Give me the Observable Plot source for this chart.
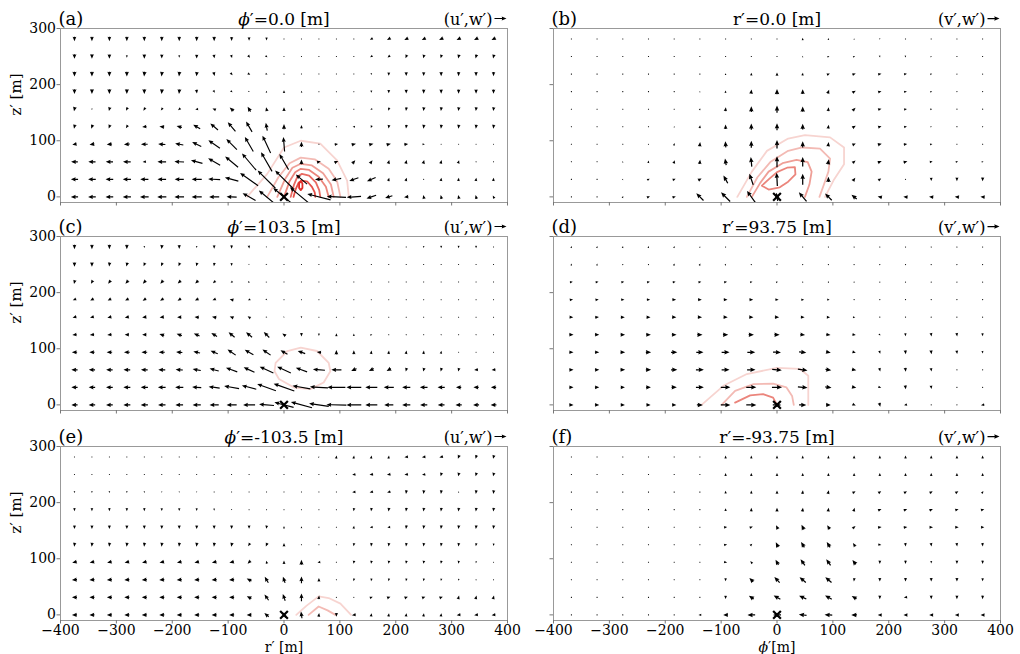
<!DOCTYPE html>
<html>
<head>
<meta charset="utf-8">
<script src="https://cdn.jsdelivr.net/npm/d3@7"></script>
<script src="https://cdn.jsdelivr.net/npm/@observablehq/plot@0.6"></script>
<style>
  body { margin: 0; background: #fff; }
  #fig { position: relative; width: 1020px; height: 654px; background: #fff; overflow: hidden; }
  #fig svg { position: absolute; overflow: visible; }
</style>
</head>
<body>
<div id="fig"></div>
<script>
// ---- grids (m) ----
const rGrid = [-375,-343.75,-312.5,-281.25,-250,-218.75,-187.5,-156.25,-125,-93.75,-62.5,-31.25,0,31.25,62.5,93.75,125,156.25,187.5,218.75,250,281.25,312.5,343.75,375];
const phiGrid = [-368,-322,-276,-230,-184,-138,-92,-46,0,46,92,138,184,230,276,322,368];
const zLevels = [281.25,250,218.75,187.5,156.25,125,93.75,62.5,31.25,0]; // rows, top to bottom
const xTicks = [-400,-300,-200,-100,0,100,200,300,400];
const zTicks = [0,100,200,300];
const origin = [[0, 0]];
const keyValue = 50; // cm/s, reference arrow

// ---- (a) phi'=0 : u', w' (cm/s) ----
const aU = [
  [0,0,0,0,0,0,0,0,0,0,0,0,0,0,0,0,-2,-12,-15,-16,-16,-17,-17,-17,-17],
  [0,0,0,0,0,0,0,0,2,4,8,8,2,0,0,0,0,-10,-10,-6,-4,-4,-4,-4,-4],
  [0,0,0,0,-2,-2,-2,-2,4,8,10,8,2,0,0,0,0,0,0,0,0,0,0,0,0],
  [0,0,0,0,0,-2,-2,2,6,8,6,2,0,-2,0,0,0,0,0,0,0,0,0,0,0],
  [-4,-2,-4,-6,-8,-8,-10,-12,-14,-16,-12,-4,0,0,0,0,-4,-8,-4,-2,-2,-2,-2,-2,-2],
  [-4,-6,-6,-8,-18,-20,-22,-29,-32,-32,-25,-6,0,0,0,0,-10,-4,-2,-2,-2,-2,-2,-2,-2],
  [-18,-20,-22,-24,-28,-30,-34,-38,-48,-44,-35,-34,-5,0,2,14,18,18,18,16,10,3,2,2,2],
  [-28,-30,-30,-32,-14,-36,-40,-48,-50,-54,-59,-46,-38,0,16,16,12,10,4,4,4,4,4,2,2],
  [-30,-32,-32,-34,-34,-36,-38,-42,-50,-56,-75,-74,-74,-47,-33,-40,-38,-36,4,4,1,2,2,2,2],
  [-30,-32,-32,-34,-36,-38,-40,-42,-42,-42,-54,-64,-90,-96,-97,-80,-60,-40,-30,-18,-4,-4,-4,-4,-6]
];
const aW = [
  [-18,-18,-18,-18,-18,-18,-18,-18,-18,-16,-14,-12,-4,-2,-2,-2,-2,-6,-8,-8,-8,-8,-8,-9,-9],
  [-19,-19,-18,-10,-18,-17,-10,-16,-15,-13,-10,-6,-2,-1,-1,-1,-2,-6,-8,-14,-15,-15,-16,-16,-16],
  [-20,-20,-20,-20,-20,-19,-19,-18,-16,-10,-6,-4,-2,-1,-1,-1,-1,-8,-14,-16,-16,-17,-17,-17,-17],
  [-20,-20,-20,-20,-20,-20,-19,-16,-10,-6,-2,8,12,8,2,1,1,-10,-14,-16,-17,-17,-17,-17,-17],
  [-18,-6,-16,-14,-12,-10,-8,-2,6,14,20,16,16,12,2,1,-2,-4,-12,-15,-16,-16,-16,-16,-16],
  [-17,-16,-15,-12,-2,2,6,17,27,38,43,33,22,14,1,1,0,-10,-14,-15,-16,-16,-16,-16,-16],
  [-4,-3,-2,-2,0,2,6,18,33,44,61,72,60,22,2,2,4,4,4,2,0,0,0,0,0],
  [0,0,0,0,-2,0,2,13,29,45,70,80,65,20,4,6,14,14,16,16,16,15,14,4,4],
  [0,0,0,0,0,0,0,0,2,15,53,74,74,40,-2,-8,-14,-16,14,14,2,14,14,14,14],
  [0,0,0,0,0,0,0,0,0,2,31,53,75,80,25,4,-4,-14,-10,-2,16,16,16,16,12]
];

// ---- (b) r'=0 : v', w' (cm/s) ----
const bV = [
  [0,0,0,0,0,0,0,0,0,0,0,0,0,0,0,0,0],
  [0,0,0,0,0,0,0,0,0,0,8,8,2,2,6,0,0],
  [0,0,0,0,0,0,0,0,0,2,12,14,14,12,8,2,2],
  [0,0,0,0,0,0,2,2,0,0,6,14,14,12,8,2,2],
  [0,0,0,0,0,2,2,0,0,0,2,12,14,12,8,2,2],
  [0,0,0,0,0,2,0,0,0,0,2,14,14,12,6,2,0],
  [0,0,0,0,2,2,-2,0,0,0,2,14,16,14,10,4,2],
  [0,0,0,2,4,2,-5,-4,0,0,4,12,16,16,12,10,8],
  [0,0,2,10,12,14,-18,-16,-3,0,0,10,12,2,0,0,0],
  [0,0,4,12,14,-30,-38,-36,-6,-32,-28,-22,-18,-18,-18,-18,-18]
];
const bW = [
  [2,2,2,2,2,2,3,3,4,10,8,6,-6,4,4,3,3],
  [2,2,2,2,2,2,2,3,4,6,4,4,-8,-8,2,2,2],
  [2,2,2,2,2,3,8,12,14,12,6,4,2,2,2,2,2],
  [2,2,2,2,3,6,10,18,22,20,16,8,4,2,2,2,2],
  [2,2,2,2,4,8,16,24,30,22,16,12,4,2,2,2,2],
  [2,2,2,3,6,12,18,26,30,24,16,8,4,2,2,2,2],
  [2,2,3,6,10,18,26,30,36,26,18,6,4,2,2,2,2],
  [2,2,6,10,14,18,28,40,46,40,22,10,6,4,2,2,2],
  [2,2,6,6,6,8,32,46,56,46,22,14,8,2,-14,-15,-16],
  [2,2,8,6,4,30,38,50,34,38,28,18,4,2,2,2,2]
];

// ---- (c) phi'=103.5 : u', w' (cm/s) ----
const cU = [
  [0,0,0,0,0,-2,0,0,0,0,2,4,0,0,0,0,0,0,0,0,0,0,0,0,0],
  [0,0,-2,-4,-6,-6,-6,-4,-2,0,4,6,0,0,0,0,0,0,0,0,0,0,0,0,0],
  [-4,-8,-10,-12,-12,-12,-12,-12,-10,-8,8,6,0,0,0,0,0,0,0,0,0,0,0,0,0],
  [-14,-14,-14,-14,-14,-14,-14,-14,-14,-16,-10,6,0,0,0,0,0,0,0,0,0,0,0,0,0],
  [-16,-16,-17,-17,-18,-18,-18,-18,-18,-16,-12,6,4,0,0,0,0,0,0,0,0,0,0,0,0],
  [-18,-18,-18,-18,-18,-20,-22,-24,-24,-25,-25,-23,-14,0,0,0,0,8,2,2,1,1,1,1,1],
  [-22,-22,-23,-24,-24,-25,-26,-28,-30,-34,-36,-34,-29,-31,-18,0,0,2,2,2,2,2,1,1,1],
  [-26,-26,-27,-28,-28,-29,-30,-34,-38,-47,-45,-57,-57,-47,-50,-42,-22,-20,-18,-4,-4,-4,-4,-16,-16],
  [-26,-27,-28,-29,-30,-32,-34,-38,-46,-62,-60,-78,-86,-74,-75,-75,-62,-50,-42,-34,-32,-30,-22,-22,-22],
  [-26,-27,-28,-29,-30,-31,-32,-34,-38,-42,-50,-62,-80,-88,-82,-83,-62,-50,-38,-34,-30,-28,-26,-25,-24]
];
const cW = [
  [-18,-18,-18,-18,-8,-17,-16,-8,-14,-14,-12,-4,-2,-1,-1,-1,-1,-1,-2,-2,-8,-10,-10,-10,-3],
  [-18,-18,-17,-16,-14,-14,-14,-14,-14,-12,-4,-2,-1,-1,-1,-1,-1,-1,-1,-1,-1,-1,-1,-1,-1],
  [-16,-14,-14,-13,-13,-13,-12,-12,-10,-6,-2,0,-1,-1,-1,-1,-1,-1,-1,-1,-1,-1,-1,-1,-1],
  [-6,-8,-8,-8,-9,-9,-9,-8,-6,4,-4,-4,-1,-1,-1,-1,-1,-1,-1,-1,-1,-1,-1,-1,-1],
  [-4,-4,-4,-4,-2,-2,0,2,4,6,8,-2,-4,-8,-1,-1,-1,-1,-1,-1,-1,-1,-1,-1,-1],
  [-2,-2,-2,0,0,6,8,10,14,21,21,23,10,-14,-10,12,10,4,2,2,1,1,1,1,1],
  [0,0,0,0,0,0,2,6,12,24,21,24,17,11,2,18,16,14,14,14,14,12,2,2,2],
  [0,0,0,0,0,0,2,6,10,17,21,26,26,17,4,0,-10,-10,-10,-15,-15,-15,-14,-2,-2],
  [0,0,0,0,0,0,0,2,6,11,16,28,31,13,4,0,0,0,0,0,0,0,0,0,0],
  [0,0,0,0,0,0,0,0,0,0,0,5,21,24,12,2,0,0,0,0,0,0,0,0,0]
];

// ---- (d) r'=93.75 : v', w' (cm/s) ----
const dV = [
  [2,2,2,2,2,2,1,1,1,1,1,1,1,1,1,1,1],
  [2,2,1,2,4,4,4,2,1,1,1,1,1,1,1,1,1],
  [12,12,12,12,12,12,12,10,8,4,2,1,1,1,1,1,1],
  [14,14,14,14,16,16,16,16,14,12,10,4,1,1,1,1,1],
  [16,16,17,17,18,18,18,18,18,16,14,10,4,1,1,1,1],
  [18,18,19,20,20,22,22,22,22,20,18,14,8,2,2,2,2],
  [18,18,20,22,26,30,33,33,33,30,20,14,4,2,2,2,2],
  [18,18,20,22,26,33,33,35,40,40,24,18,4,2,2,1,1],
  [18,18,18,20,22,33,40,42,42,40,26,18,12,2,2,1,1],
  [18,18,18,18,18,25,40,42,35,30,20,14,4,-12,-2,-2,-14]
];
const dW = [
  [8,8,8,8,8,6,2,2,2,2,2,2,2,2,2,2,2],
  [8,8,2,3,8,8,6,2,2,2,2,2,2,2,2,2,2],
  [2,2,2,2,2,2,2,2,2,1,1,1,1,1,1,1,1],
  [2,2,0,0,0,0,0,0,0,0,0,0,0,0,0,0,0],
  [0,2,0,0,0,0,0,0,0,0,0,0,0,0,-1,-1,-1],
  [0,0,0,0,0,0,0,0,0,-2,-2,-2,-4,-12,-14,-14,-12],
  [0,0,0,0,0,0,0,0,-2,-4,-4,-4,-12,-16,-16,-14,-10],
  [0,0,0,0,0,0,0,0,-4,-6,-4,-4,-14,-16,-14,-2,-2],
  [0,0,0,0,0,0,0,0,0,-4,-4,-4,-4,-16,-14,-2,-2],
  [0,0,0,0,0,0,0,0,0,0,0,-6,-16,-4,-2,-2,-2]
];

// ---- (e) phi'=-103.5 : u', w' (cm/s) ----
const eU = [
  [0,0,0,0,0,0,0,0,0,0,0,0,0,3,6,2,2,2,2,-15,-15,-15,-6,-4,-4],
  [0,0,0,0,0,0,0,0,0,0,0,0,0,0,0,0,-14,-15,-15,-15,-14,-4,-4,-4,-4],
  [0,0,0,0,0,0,0,0,0,0,0,0,0,0,0,0,-14,-14,-14,-2,-2,-2,-1,-2,-2],
  [0,0,0,0,0,0,0,0,0,0,0,0,0,0,0,0,-2,-2,-2,-2,-2,-2,-2,-2,-2],
  [0,0,0,0,0,0,0,0,0,0,0,-2,0,0,0,0,2,-12,-12,-2,-2,-2,-2,-2,-2],
  [-2,-2,-2,-2,-2,-2,-2,-2,-2,-4,-8,-6,0,0,0,0,-2,-2,-2,-2,-2,-2,-2,-2,-2],
  [-19,-19,-19,-19,-19,-19,-19,-19,-19,-19,-12,-4,0,0,-12,1,-2,-2,-2,-2,-2,-2,-2,-2,-1],
  [-21,-21,-21,-21,-21,-21,-21,-21,-21,-21,-20,-15,-9,0,0,0,-2,-2,-2,-2,-2,-2,-2,-1,-1],
  [-21,-21,-21,-21,-21,-21,-21,-21,-21,-21,-19,-17,-10,0,2,1,1,12,14,14,14,14,4,4,4],
  [-21,-21,-21,-21,-21,-21,-21,-21,-21,-21,-20,-18,-14,-4,2,0,-16,2,2,2,2,2,-16,-16,-16]
];
const eW = [
  [-4,-4,-4,-4,-3,-3,-3,-3,-3,-3,-3,-3,-2,1,2,13,13,13,13,-2,-2,-4,-15,-15,-15],
  [-4,-4,-4,-4,-3,-3,-3,-3,-3,-3,-3,-2,-2,-1,-1,-1,-2,-2,-2,-2,-2,-15,-15,-15,-15],
  [-8,-8,-8,-8,-7,-6,-6,-5,-4,-3,-3,-2,-1,-1,-1,-1,-2,-4,-4,-15,-15,-15,-4,-15,-15],
  [-13,-13,-13,-13,-13,-12,-12,-11,-9,-6,-3,-2,-1,-1,-1,-1,-13,-14,-15,-15,-15,-15,-15,-15,-15],
  [-15,-15,-15,-15,-15,-15,-15,-15,-15,-15,-14,-14,10,8,1,1,12,-2,-2,-15,-15,-15,-15,-15,-15],
  [-16,-16,-16,-16,-16,-16,-16,-16,-16,-16,-12,-14,14,2,1,1,-13,-14,-14,-14,-14,-14,-14,-12,-10],
  [-5,-5,-5,-5,-5,-5,-5,-5,-5,-5,-12,12,14,20,-2,1,-13,-13,-13,-13,-13,-13,-12,-8,-2],
  [-2,-2,-2,-2,-2,-2,-2,-2,-2,-2,10,25,26,28,15,1,-11,-11,-11,-11,-11,-10,-8,-2,-2],
  [0,0,0,0,0,0,0,0,0,0,10,24,28,33,15,1,1,5,5,5,5,5,15,15,15],
  [0,0,0,0,0,0,0,0,0,0,0,16,24,28,15,-16,-2,14,14,14,14,14,-2,-2,-2]
];

// ---- (f) r'=-93.75 : v', w' (cm/s) ----
const fV = [
  [0,0,0,0,0,0,0,0,0,0,0,0,0,0,0,0,0],
  [0,0,0,0,0,0,0,0,0,0,0,0,0,0,0,0,0],
  [0,0,0,0,0,0,0,0,0,2,4,12,12,12,12,12,6],
  [0,0,0,0,0,0,0,0,0,2,2,4,14,14,14,14,14],
  [0,0,0,0,0,0,13,13,-8,-10,-10,12,15,15,15,15,14],
  [0,0,0,0,0,0,13,8,-10,-14,-14,-10,13,2,2,2,2],
  [0,0,0,0,0,0,13,-8,-12,-18,-18,-14,0,0,0,0,0],
  [0,0,0,0,0,0,0,-16,-22,-26,-26,-2,0,0,0,0,0],
  [0,0,0,0,0,0,0,-20,-28,-30,-28,-20,0,-14,0,0,0],
  [0,0,0,0,0,-12,-20,-32,-33,-32,-32,-24,-17,-17,-17,-17,-17]
];
const fW = [
  [2,2,2,2,2,3,12,12,12,12,12,13,13,13,13,13,13],
  [2,2,2,2,2,3,12,13,13,13,13,13,13,13,13,13,13],
  [2,2,2,2,2,3,12,13,14,15,15,8,8,8,8,8,10],
  [2,2,2,2,2,2,12,15,16,16,16,15,6,6,6,4,4],
  [2,2,2,2,2,2,2,5,16,20,16,10,2,2,0,0,0],
  [2,2,2,2,2,2,2,8,20,22,22,14,-2,-14,-14,-14,-14],
  [1,1,1,1,1,1,-2,10,22,25,25,18,-14,-14,-10,-14,-14],
  [1,1,1,1,1,1,-13,16,24,22,22,-14,-15,-15,-15,-15,-13],
  [1,1,1,1,1,1,-14,14,16,14,16,12,-15,-2,-15,-15,-15],
  [1,1,1,1,1,0,0,0,0,4,2,0,0,0,0,0,0]
];

// ---- contour lines of the perturbation field: [level, [[x, z], ...]] ----
const aContours = [
  [1, [[-66,0],[-30,41],[0,88],[30,100],[65,95],[95,65],[113,29],[116,0]]],
  [2, [[-30,0],[-10,35],[10,60],[30,70],[55,67],[80,50],[95,28],[101,0]]],
  [3, [[-12,0],[2,32],[15,52],[30,59],[50,56],[70,42],[84,22],[89,0]]],
  [4, [[0,0],[10,28],[20,44],[30,50],[45,48],[62,36],[75,18],[80,0]]],
  [5, [[12,0],[18,22],[24,36],[32,41],[45,38],[57,26],[63,12],[65,0]]],
  [6, [[17,0],[21,14],[26,25],[32,29],[42,27],[50,18],[55,8],[56,0]]],
  [7, [[30,28],[33,24],[33,16],[30,12],[27,16],[27,24],[30,28]]]
];
const bContours = [
  [1, [[-71,0],[-45,45],[-18,82],[20,104],[50,110],[95,106],[120,88],[120,58],[101,29],[86,0]]],
  [2, [[-54,0],[-35,35],[-12,62],[20,82],[45,88],[77,86],[95,68],[92,45],[84,22],[76,0]]],
  [3, [[-45,0],[-30,25],[-15,45],[10,60],[35,66],[55,62],[62,45],[58,22],[50,0]]],
  [4, [[-27,20],[-13,33],[0,44],[18,52],[32,53],[33,40],[20,27],[5,17],[-15,13],[-27,20]]]
];
const cContours = [
  [1, [[-17,60],[-15,75],[6,96],[30,102],[59,96],[80,75],[83,60],[71,40],[47,28],[18,31],[-9,46],[-17,60]]]
];
const dContours = [
  [1, [[-135,0],[-96,34],[-54,55],[0,66],[41,64],[56,52],[56,25],[56,0]]],
  [2, [[-99,0],[-75,25],[-42,37],[-7,38],[17,31],[27,16],[30,0]]],
  [4, [[-75,4],[-48,17],[-25,19],[-7,13],[0,0]]]
];
const eContours = [
  [1, [[22,0],[40,16],[62,33],[80,30],[101,20],[120,0]]],
  [2, [[44,0],[62,15],[78,8],[92,0]]]
];
const fContours = [];

const levelColors = ["#f7d4d0","#f3bab4","#ef9f97","#eb857c","#e86a62","#e54f48","#e0302a"];

// ---- panels ----
const panels = [
  {tag: "(a)", title: "ϕ′=0.0 [m]",    key: "(u′,w′)", xs: rGrid,   U: aU, W: aW, contours: aContours, col: 0, row: 0},
  {tag: "(b)", title: "r′=0.0 [m]",    key: "(v′,w′)", xs: phiGrid, U: bV, W: bW, contours: bContours, col: 1, row: 0},
  {tag: "(c)", title: "ϕ′=103.5 [m]",  key: "(u′,w′)", xs: rGrid,   U: cU, W: cW, contours: cContours, col: 0, row: 1},
  {tag: "(d)", title: "r′=93.75 [m]",  key: "(v′,w′)", xs: phiGrid, U: dV, W: dW, contours: dContours, col: 1, row: 1},
  {tag: "(e)", title: "ϕ′=-103.5 [m]", key: "(u′,w′)", xs: rGrid,   U: eU, W: eW, contours: eContours, col: 0, row: 2},
  {tag: "(f)", title: "r′=-93.75 [m]", key: "(v′,w′)", xs: phiGrid, U: fV, W: fW, contours: fContours, col: 1, row: 2}
];
const xLabels = ["r′ [m]", "ϕ′[m]"];

// layout (px)
const frameW = 447, frameH = 174;
const frameLeft = [60, 553];
const frameTop = [28, 236, 446];

function field(xs, U, W) {
  const out = [];
  zLevels.forEach((z, k) => xs.forEach((x, i) => out.push({x, z, u: U[k][i], w: W[k][i]})));
  return out;
}

// quiver-style arrow: filled polygon, shrinks below one head length, dot below one shaft width
function quiverArrow(sw) {
  return {
    draw(context, l) {
      if (!(l >= sw)) {
        const rr = sw / 2, cy = -l / 2;
        for (let k = 0; k < 6; ++k) {
          const a = (k * Math.PI) / 3;
          const px = rr * Math.cos(a), py = cy + rr * Math.sin(a);
          if (k) context.lineTo(px, py); else context.moveTo(px, py);
        }
        context.closePath();
        return;
      }
      const s = Math.min(1, l / (4.2 * sw));
      const hs = 0.5 * sw * s, hw = 1.8 * sw * s, hl = 4.2 * sw * s, ha = 3.8 * sw * s;
      context.moveTo(-hs, 0);
      context.lineTo(-hs, -(l - ha));
      context.lineTo(-hw, -(l - hl));
      context.lineTo(0, -l);
      context.lineTo(hw, -(l - hl));
      context.lineTo(hs, -(l - ha));
      context.lineTo(hs, 0);
      context.closePath();
    }
  };
}

const fig = document.getElementById("fig");

panels.forEach(p => {
  const left = p.col === 0, bottom = p.row === 2;
  const mL = left ? 60 : 30, mR = left ? 8 : 20;
  const mT = 28, mB = bottom ? 34 : 6;
  const shaft = left ? 1.15 : 1.25;
  const arrow = quiverArrow(shaft);

  const marks = [];
  p.contours.forEach(([lvl, pts]) => {
    marks.push(Plot.line(pts, {x: d => d[0], y: d => d[1], stroke: levelColors[lvl - 1], strokeWidth: 1.8, clip: true}));
  });
  marks.push(
    Plot.vector(field(p.xs, p.U, p.W), {
      x: "x", y: "z",
      length: d => Math.hypot(d.u, d.w),
      rotate: d => Math.atan2(d.u, d.w) * 180 / Math.PI,
      anchor: "middle", shape: arrow, fill: "black", stroke: "none", clip: true
    }),
    Plot.dot(origin, {x: d => d[0], y: d => d[1], symbol: "times", r: 3.6, stroke: "black", strokeWidth: 2.2}),
    Plot.frame({stroke: "#999"}),
    Plot.axisX({ticks: xTicks, tickSize: 3.5, tickPadding: 1.5, stroke: "#777", fill: bottom ? "black" : "none", label: null, fontSize: 14}),
    Plot.axisY({ticks: zTicks, tickSize: 3.5, tickPadding: 1, stroke: "#777", fill: left ? "black" : "none", label: null, fontSize: 14}),
    Plot.text([p.tag], {text: d => d, frameAnchor: "top-left", textAnchor: "start", lineAnchor: "bottom", dx: -2, dy: -4, fontSize: 18}),
    Plot.text([p.title], {text: d => d, frameAnchor: "top", lineAnchor: "bottom", dy: -4, fontSize: 17}),
    Plot.text([p.key], {text: d => d, frameAnchor: "top-right", textAnchor: "end", lineAnchor: "bottom", dx: -15, dy: -4, fontSize: 16}),
    Plot.vector([keyValue], {frameAnchor: "top-right", length: d => d, rotate: 90, anchor: "start", dx: -13, dy: -10, shape: arrow, fill: "black", stroke: "none"})
  );
  if (left) marks.push(Plot.text(["z′ [m]"], {text: d => d, frameAnchor: "left", rotate: -90, dx: -44, lineAnchor: "middle", fontSize: 15}));
  if (bottom) marks.push(Plot.text([xLabels[p.col]], {text: d => d, frameAnchor: "bottom", dy: 27, lineAnchor: "middle", fontSize: 14}));

  const svg = Plot.plot({
    width: mL + frameW + mR,
    height: mT + frameH + mB,
    marginLeft: mL, marginRight: mR, marginTop: mT, marginBottom: mB,
    style: {fontFamily: "DejaVu Serif", fontSize: "15px", background: "transparent", overflow: "visible", color: "black"},
    x: {domain: [-400, 400]},
    y: {domain: [-10, 300]},
    length: {domain: [0, keyValue], range: [0, 12]},
    marks
  });

  // italic phi in labels
  svg.querySelectorAll("text").forEach(t => {
    const s = t.textContent;
    if (s.startsWith("ϕ")) {
      t.textContent = "";
      const a = document.createElementNS("http://www.w3.org/2000/svg", "tspan");
      a.setAttribute("font-style", "italic");
      a.textContent = "ϕ";
      const b = document.createElementNS("http://www.w3.org/2000/svg", "tspan");
      b.textContent = s.slice(1);
      t.append(a, b);
    }
  });

  svg.style.left = (frameLeft[p.col] - mL) + "px";
  svg.style.top = (frameTop[p.row] - mT) + "px";
  fig.appendChild(svg);
});
</script>
</body>
</html>
